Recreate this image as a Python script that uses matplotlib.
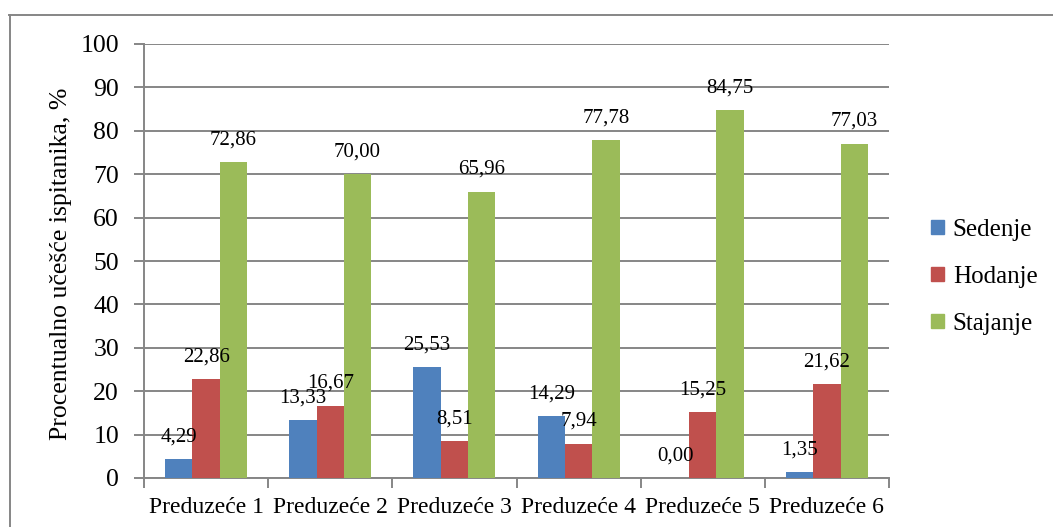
import numpy as np
import matplotlib
matplotlib.use('Agg')
import matplotlib.pyplot as plt
from matplotlib.lines import Line2D
from matplotlib.patches import Patch

# data
categories = ['Preduzeće 1', 'Preduzeće 2', 'Preduzeće 3',
              'Preduzeće 4', 'Preduzeće 5', 'Preduzeće 6']
sedenje = [4.29, 13.33, 25.53, 14.29, 0.00, 1.35]
hodanje = [22.86, 16.67, 8.51, 7.94, 15.25, 21.62]
stajanje = [72.86, 70.00, 65.96, 77.78, 84.75, 77.03]
series_names = ['Sedenje', 'Hodanje', 'Stajanje']
colors = ['#4F81BD', '#C0504D', '#9BBB59']
y_ticks = [0, 10, 20, 30, 40, 50, 60, 70, 80, 90, 100]

plt.rcParams['font.family'] = ['Liberation Serif', 'DejaVu Serif']
grid_col = '#868686'

fig = plt.figure(figsize=(10.53, 5.27), dpi=100)
ax = fig.add_axes([144 / 1053, 49 / 527, 745 / 1053, 434 / 527])

x = np.arange(len(categories))
w = 0.22
for i, (vals, name, col) in enumerate(zip([sedenje, hodanje, stajanje], series_names, colors)):
    pos = x + (i - 1) * w
    ax.bar(pos, vals, width=w, color=col, label=name, zorder=3)
    for px, v in zip(pos, vals):
        ax.annotate(f'{v:.2f}'.replace('.', ','), (px, v), xytext=(0, 16),
                    textcoords='offset points', ha='center', va='center',
                    fontsize=15, zorder=4)

ax.set_xlim(-0.5, len(categories) - 0.5)
ax.set_ylim(0, 100)
ax.set_yticks(y_ticks)
ax.yaxis.grid(True, color=grid_col, linewidth=1.4, zorder=0)
ax.tick_params(axis='y', length=7, width=1.4, color=grid_col, labelsize=18.5, pad=11)

# categories centred, tick marks at group boundaries
ax.set_xticks(x)
ax.set_xticklabels(categories, fontsize=17)
ax.tick_params(axis='x', length=0, pad=14)
ax.set_xticks(np.arange(-0.5, len(categories)), minor=True)
ax.tick_params(axis='x', which='minor', length=7, width=1.4, color=grid_col)

for s in ['top', 'right']:
    ax.spines[s].set_visible(False)
for s in ['left', 'bottom']:
    ax.spines[s].set_color(grid_col)
    ax.spines[s].set_linewidth(1.4)

fig.text(61 / 1053, 1 - 264 / 527, 'Procentualno učešće ispitanika, %',
         rotation=90, ha='center', va='center', fontsize=18.5)

handles = [Patch(color=c, label=n) for c, n in zip(colors, series_names)]
fig.legend(handles=handles, loc='center left', bbox_to_anchor=(931 / 1053, 1 - 277 / 527),
           frameon=False, fontsize=18, handlelength=0.52, handleheight=0.52,
           handletextpad=0.35, labelspacing=1.0, borderpad=0, borderaxespad=0)

# outer chart border (only top and left edges lie inside the image)
fig.add_artist(Line2D([9 / 1053, 1.0], [1 - 14.5 / 527] * 2, color=grid_col, linewidth=1.4))
fig.add_artist(Line2D([9.5 / 1053] * 2, [0.0, 1 - 14.5 / 527], color=grid_col, linewidth=1.4))

fig.savefig('out.png', dpi=100)
